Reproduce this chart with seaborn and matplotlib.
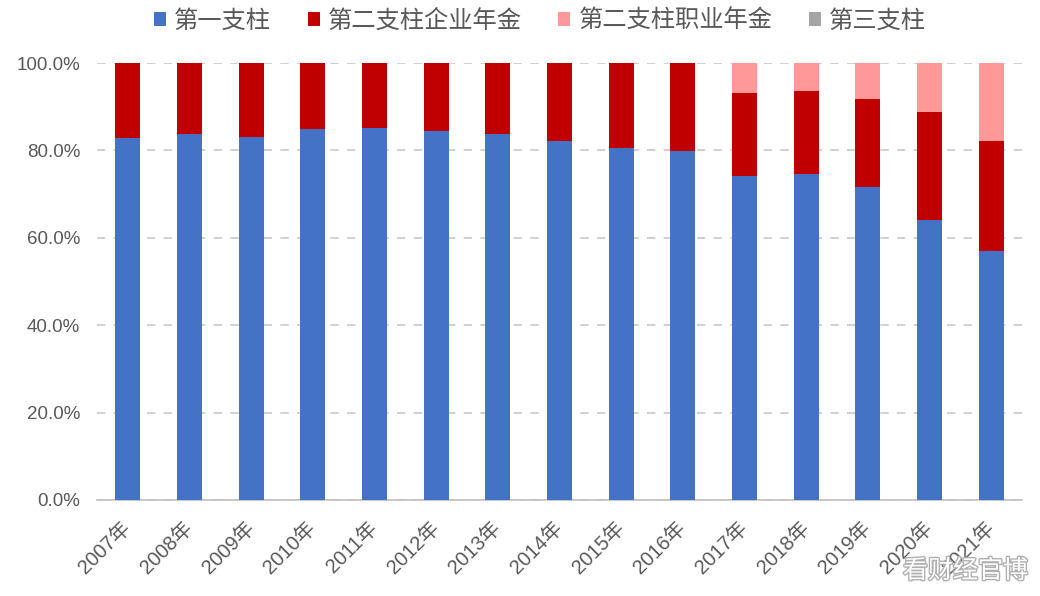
import numpy as np
import pandas as pd
import seaborn as sns
import matplotlib
matplotlib.use("Agg")
import matplotlib.pyplot as plt
from matplotlib.patches import Patch
from matplotlib.ticker import FuncFormatter
import matplotlib.patheffects as pe

years = ["2007年", "2008年", "2009年", "2010年", "2011年", "2012年", "2013年", "2014年",
         "2015年", "2016年", "2017年", "2018年", "2019年", "2020年", "2021年"]
pillar1 = [82.8, 83.7, 83.1, 84.8, 85.1, 84.4, 83.8, 82.2, 80.5, 79.9, 74.2, 74.6, 71.6, 64.0, 57.0]
enterprise = [17.2, 16.3, 16.9, 15.2, 14.9, 15.6, 16.2, 17.8, 19.5, 20.1, 19.0, 18.9, 20.2, 24.8, 25.2]
occupational = [0, 0, 0, 0, 0, 0, 0, 0, 0, 0, 6.8, 6.5, 8.2, 11.2, 17.8]
pillar3 = [0] * 15
series_names = ["第一支柱", "第二支柱企业年金", "第二支柱职业年金", "第三支柱"]
colors = ["#4472C4", "#C00000", "#FF9999", "#A5A5A5"]

sns.set_theme(style="white")
plt.rcParams['font.family'] = ['Noto Sans CJK SC', 'DejaVu Sans']
tick_family = ['Liberation Sans', 'Noto Sans CJK SC']

df = pd.DataFrame({"year": years, "p1": pillar1, "ent": enterprise,
                   "occ": occupational, "p3": pillar3})
df["c1"] = df["p1"]
df["c2"] = df["c1"] + df["ent"]
df["c3"] = df["c2"] + df["occ"]
df["c4"] = df["c3"] + df["p3"]

fig = plt.figure(figsize=(10.4, 5.96), dpi=100)
ax = fig.add_axes([97 / 1040, 1 - 500 / 596, (1022 - 97) / 1040, (500 - 63) / 596])

for col, c in zip(["c4", "c3", "c2", "c1"], colors[::-1]):
    sns.barplot(data=df, x="year", y=col, color=c, saturation=1, width=0.41,
                ax=ax, zorder=3, linewidth=0, edgecolor="none")

ax.set_ylim(0, 100)
ax.set_xlim(-0.5, len(years) - 0.5)
ax.set_yticks([0, 20, 40, 60, 80, 100])
ax.yaxis.set_major_formatter(FuncFormatter(lambda v, p: f"{v:.1f}%"))
ax.set_xlabel("")
ax.set_ylabel("")
ax.grid(axis="y", color="#C8C8C8", linestyle=(0, (5, 5)), linewidth=1.2, zorder=0)
for s in ["top", "right", "left"]:
    ax.spines[s].set_visible(False)
ax.spines["bottom"].set_color("#BFBFBF")
ax.spines["bottom"].set_linewidth(1.2)
ax.tick_params(axis="y", length=0, labelsize=13.5, labelcolor="#595959", pad=12)
ax.tick_params(axis="x", length=0, labelsize=14.5, labelcolor="#595959", pad=18)
for t in ax.get_yticklabels():
    t.set_fontfamily(tick_family)
for t in ax.get_xticklabels():
    t.set_fontfamily(tick_family)
plt.setp(ax.get_xticklabels(), rotation=45, ha="right", va="center", rotation_mode="anchor")

handles = [Patch(facecolor=c, edgecolor="none") for c in colors]
leg = fig.legend(handles, series_names, loc="center", bbox_to_anchor=(540 / 1040, 1 - 21 / 596),
                 ncol=4, frameon=False, fontsize=17.5, handlelength=0.5, handleheight=0.5,
                 handletextpad=0.33, columnspacing=1.5)
for t in leg.get_texts():
    t.set_color("#595959")

fig.text(1028 / 1040, 1 - 571 / 596, "看财经官博", ha="right", va="center", fontsize=18,
         color="white", path_effects=[pe.withStroke(linewidth=2, foreground="#B0B0B0")])

fig.savefig("out.png", dpi=100)
